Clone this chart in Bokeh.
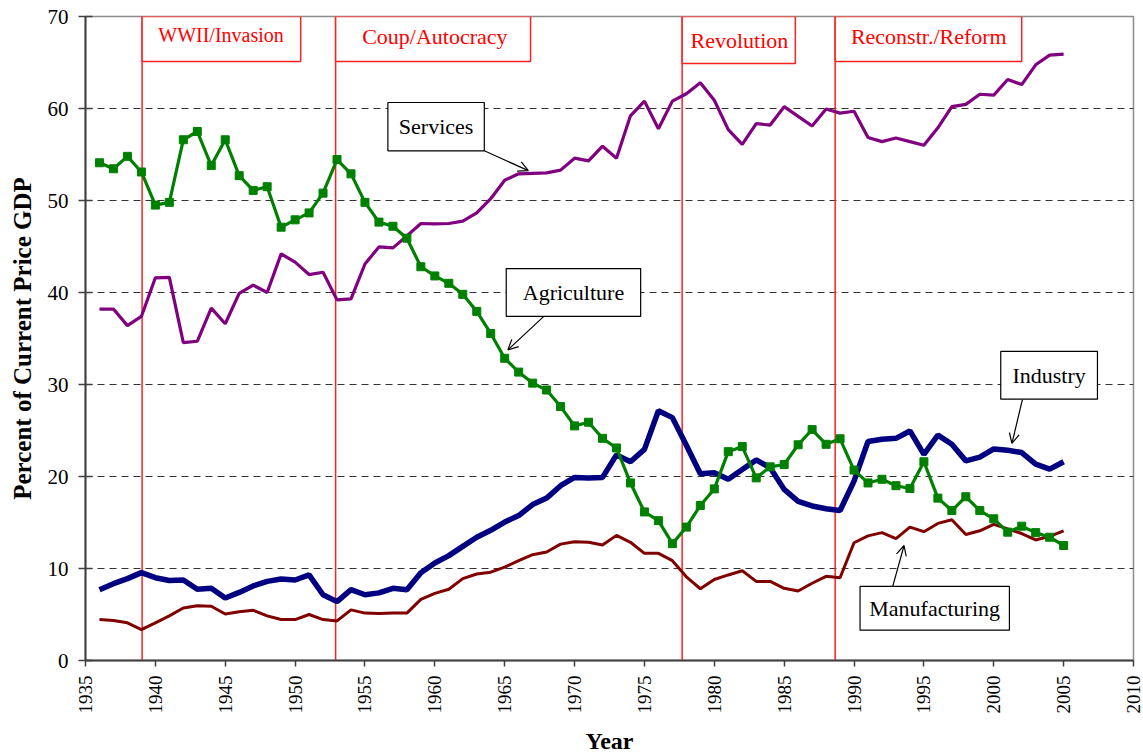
import math
from bokeh.plotting import figure
from bokeh.models import Range1d, FixedTicker, Arrow, OpenHead
from bokeh.core.properties import value
from bokeh.embed import file_html
from bokeh.resources import INLINE

years = list(range(1936, 2006))

agriculture = [54.1, 53.45, 54.8, 53.1, 49.5, 49.8, 56.6, 57.5, 53.8, 56.6,
               52.7, 51.1, 51.5, 47.1, 47.9, 48.65, 50.8, 54.45, 52.9, 49.8,
               47.65, 47.2, 45.9, 42.8, 41.8, 41.0, 39.8, 37.95, 35.55, 32.85,
               31.35, 30.15, 29.4, 27.6, 25.5, 25.9, 24.15, 23.1, 19.3, 16.15,
               15.2, 12.7, 14.5, 16.85, 18.65, 22.7, 23.25, 19.85, 21.05, 21.3,
               23.45, 25.1, 23.5, 24.1, 20.7, 19.3, 19.7, 19.0, 18.7, 21.6,
               17.65, 16.3, 17.8, 16.3, 15.4, 13.95, 14.6, 13.9, 13.4, 12.5]

services = [38.2, 38.2, 36.4, 37.4, 41.6, 41.65, 34.55, 34.7, 38.3, 36.6,
            39.9, 40.8, 40.0, 44.2, 43.3, 41.95, 42.2, 39.2, 39.3, 43.1,
            44.95, 44.85, 46.15, 47.5, 47.45, 47.5, 47.75, 48.65, 50.2, 52.2,
            52.9, 52.95, 53.0, 53.3, 54.6, 54.3, 55.9, 54.6, 59.2, 60.8,
            57.8, 60.8, 61.6, 62.8, 60.9, 57.7, 56.1, 58.35, 58.2, 60.2,
            59.15, 58.1, 59.95, 59.5, 59.7, 56.85, 56.4, 56.8, 56.4, 56.0,
            57.9, 60.2, 60.45, 61.55, 61.45, 63.15, 62.6, 64.75, 65.8, 65.9]

industry = [7.7, 8.35, 8.9, 9.55, 9.0, 8.7, 8.75, 7.75, 7.85, 6.8,
            7.4, 8.1, 8.6, 8.85, 8.75, 9.3, 7.15, 6.4, 7.7, 7.15,
            7.35, 7.85, 7.7, 9.55, 10.6, 11.4, 12.4, 13.4, 14.15, 15.05,
            15.75, 16.95, 17.65, 19.0, 19.9, 19.85, 19.9, 22.35, 21.6, 22.95,
            27.15, 26.4, 23.4, 20.3, 20.4, 19.7, 20.75, 21.8, 20.95, 18.6,
            17.3, 16.8, 16.5, 16.3, 19.5, 23.8, 24.05, 24.15, 24.95, 22.4,
            24.5, 23.5, 21.7, 22.1, 23.0, 22.85, 22.6, 21.35, 20.8, 21.6]

manufacturing = [4.45, 4.35, 4.1, 3.35, 4.1, 4.85, 5.7, 5.95, 5.9, 5.05,
                 5.3, 5.45, 4.85, 4.45, 4.45, 5.0, 4.45, 4.3, 5.5, 5.15,
                 5.1, 5.15, 5.15, 6.65, 7.3, 7.75, 8.9, 9.4, 9.6, 10.15,
                 10.85, 11.5, 11.8, 12.65, 12.9, 12.85, 12.55, 13.6, 12.85, 11.65,
                 11.65, 10.85, 9.1, 7.8, 8.8, 9.3, 9.75, 8.6, 8.6, 7.85,
                 7.55, 8.4, 9.15, 9.0, 12.8, 13.55, 13.9, 13.25, 14.5, 14.0,
                 14.9, 15.3, 13.7, 14.1, 14.8, 14.3, 13.8, 13.1, 13.5, 14.1]

x_ticks = list(range(1935, 2011, 5))
y_ticks = list(range(0, 71, 10))

# period annotations (red)
event_years = [1939.05, 1952.9, 1977.7, 1988.65]
event_labels = ["WWII/Invasion", "Coup/Autocracy", "Revolution", "Reconstr./Reform"]
event_box_right = [1950.4, 1966.85, 1985.8, 2002.0]
event_box_bottom = [65.1, 65.1, 64.9, 65.1]
event_text_x = [1944.7, 1960.0, 1981.8, 1995.35]
event_text_y = [68.0, 67.8, 67.4, 67.8]
event_font = ["20px", "22px", "22px", "22px"]

# series callouts (black)
callout_labels = ["Services", "Agriculture", "Industry", "Manufacturing"]
callout_left = [1956.64, 1965.11, 2000.5, 1990.43]
callout_right = [1963.54, 1974.73, 2007.42, 2001.12]
callout_bottom = [55.4, 37.4, 28.4, 3.3]
callout_top = [60.65, 42.6, 33.6, 8.05]
callout_text_x = [1960.09, 1969.92, 2003.96, 1995.77]
callout_text_y = [58.0, 40.0, 31.0, 5.67]
arrow_x0 = [1963.54, 1967.8, 2002.05, 1992.77]
arrow_y0 = [55.4, 37.4, 28.35, 8.05]
arrow_x1 = [1966.69, 1965.23, 2001.3, 1993.58]
arrow_y1 = [53.25, 33.77, 23.6, 12.5]

SERIF = "Liberation Serif"

p = figure(width=1143, height=756, output_backend="svg", toolbar_location=None,
           x_range=Range1d(1935, 2010), y_range=Range1d(0, 70),
           min_border_left=85, min_border_right=10, min_border_top=16,
           min_border_bottom=95)
p.background_fill_color = "white"
p.border_fill_color = "white"
p.outline_line_color = "#8c8c8c"
p.outline_line_width = 1.5

p.xgrid.visible = False
p.ygrid.ticker = FixedTicker(ticks=[10, 20, 30, 40, 50, 60])
p.ygrid.grid_line_color = "#333333"
p.ygrid.grid_line_dash = "7 5"
p.ygrid.grid_line_width = 1

p.xaxis.ticker = FixedTicker(ticks=x_ticks)
p.yaxis.ticker = FixedTicker(ticks=y_ticks)
for ax in (p.xaxis, p.yaxis):
    ax.axis_line_color = "#404040"
    ax.axis_line_width = 2
    ax.major_tick_line_color = "#404040"
    ax.major_tick_line_width = 1.5
    ax.minor_tick_line_color = None
    ax.major_label_text_font = SERIF
    ax.major_label_text_color = "black"
    ax.axis_label_text_font = SERIF
    ax.axis_label_text_font_style = "bold"
    ax.axis_label_text_color = "black"

p.xaxis.major_tick_out = 6
p.xaxis.major_tick_in = 0
p.xaxis.major_label_orientation = math.pi / 2
p.xaxis.major_label_text_font_size = "19px"
p.xaxis.major_label_standoff = 9
p.xaxis.axis_label = "Year"
p.xaxis.axis_label_text_font_size = "24px"
p.xaxis.axis_label_standoff = 11

p.yaxis.major_tick_out = 7
p.yaxis.major_tick_in = 7
p.yaxis.major_label_text_font_size = "21px"
p.yaxis.major_label_standoff = 10
p.yaxis.axis_label = "Percent of Current Price GDP"
p.yaxis.axis_label_text_font_size = "25px"
p.yaxis.axis_label_standoff = 9

# red period lines
p.segment(x0=event_years, y0=[0] * len(event_years), x1=event_years,
          y1=[70] * len(event_years), line_color="#ff2020", line_width=1.5)

# data lines
p.line(years, manufacturing, line_color="#800000", line_width=3)
p.line(years, industry, line_color="#000080", line_width=5.5)
p.line(years, services, line_color="#800080", line_width=3.2)
p.line(years, agriculture, line_color="#008000", line_width=3.2)
p.scatter(years, agriculture, marker="square", size=8, fill_color="#008000",
          line_color="#008000")

# red period boxes
p.quad(left=event_years, right=event_box_right, bottom=event_box_bottom,
       top=[70] * len(event_years), fill_color="white", line_color="#ff2020",
       line_width=1.5)
for tx, ty, lab, fs in zip(event_text_x, event_text_y, event_labels, event_font):
    p.text(x=[tx], y=[ty], text=[lab], text_font=value(SERIF),
           text_font_size=fs, text_color="#ff0000", text_align="center",
           text_baseline="middle")

# callouts
p.quad(left=callout_left, right=callout_right, bottom=callout_bottom,
       top=callout_top, fill_color="white", line_color="black", line_width=1.2)
p.text(x=callout_text_x, y=callout_text_y, text=callout_labels,
       text_font=value(SERIF), text_font_size="22px", text_color="black",
       text_align="center", text_baseline="middle")
for xa, ya, xb, yb in zip(arrow_x0, arrow_y0, arrow_x1, arrow_y1):
    p.add_layout(Arrow(end=OpenHead(size=10, line_width=1.2, line_color="black"),
                       x_start=xa, y_start=ya, x_end=xb, y_end=yb,
                       line_width=1.2, line_color="black"))

open("out.html", "w").write(file_html(p, INLINE))
